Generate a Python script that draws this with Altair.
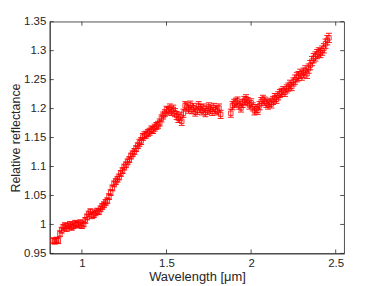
import altair as alt
import pandas as pd

wavelength = [
    0.83, 0.84, 0.85, 0.86, 0.87, 0.88, 0.89, 0.90, 0.91, 0.92, 0.93, 0.94, 0.95, 0.96, 0.97, 0.98, 0.99,
    1.00, 1.01, 1.02, 1.03, 1.04, 1.05, 1.06, 1.07, 1.08, 1.09, 1.10, 1.11, 1.12, 1.13, 1.14, 1.15, 1.16,
    1.17, 1.18, 1.19, 1.20, 1.21, 1.22, 1.23, 1.24, 1.25, 1.26, 1.27, 1.28, 1.29, 1.30, 1.31, 1.32, 1.33,
    1.34, 1.35, 1.36, 1.37, 1.38, 1.39, 1.40, 1.41, 1.42, 1.43, 1.44, 1.45, 1.46, 1.47, 1.48, 1.49, 1.50,
    1.51, 1.52, 1.53, 1.54, 1.55, 1.56, 1.57, 1.58, 1.59, 1.60, 1.61, 1.62, 1.63, 1.64, 1.65, 1.66, 1.67,
    1.68, 1.69, 1.70, 1.71, 1.72, 1.73, 1.74, 1.75, 1.76, 1.77, 1.78, 1.79, 1.80, 1.81, 1.82,
    1.88, 1.89, 1.90, 1.91, 1.92, 1.93, 1.94, 1.95, 1.96, 1.97, 1.98, 1.99, 2.00, 2.01, 2.02, 2.03, 2.04,
    2.05, 2.06, 2.07, 2.08, 2.09, 2.10, 2.11, 2.12, 2.13, 2.14, 2.15, 2.16, 2.17, 2.18, 2.19, 2.20, 2.21,
    2.22, 2.23, 2.24, 2.25, 2.26, 2.27, 2.28, 2.29, 2.30, 2.31, 2.32, 2.33, 2.34, 2.35, 2.36, 2.37, 2.38,
    2.39, 2.40, 2.41, 2.42, 2.43, 2.44, 2.45, 2.46,
]

reflectance = [
    0.972, 0.971, 0.973, 0.972, 0.984, 0.990, 0.995, 0.998, 0.993, 0.997, 1.000, 0.995, 0.998, 1.002, 1.000, 0.999, 1.003,
    0.998, 1.001, 1.007, 1.013, 1.018, 1.022, 1.015, 1.017, 1.020, 1.023, 1.022, 1.027, 1.031, 1.034, 1.038, 1.041, 1.048,
    1.055, 1.063, 1.070, 1.074, 1.078, 1.082, 1.088, 1.093, 1.099, 1.103, 1.108, 1.112, 1.118, 1.122, 1.126, 1.131, 1.136,
    1.141, 1.144, 1.151, 1.154, 1.155, 1.158, 1.160, 1.164, 1.163, 1.167, 1.170, 1.172, 1.176, 1.183, 1.188, 1.192, 1.198,
    1.196, 1.201, 1.195, 1.199, 1.193, 1.188, 1.183, 1.186, 1.178, 1.192, 1.205, 1.203, 1.199, 1.206, 1.198, 1.202, 1.194,
    1.197, 1.205, 1.200, 1.196, 1.201, 1.193, 1.197, 1.203, 1.199, 1.195, 1.202, 1.198, 1.196, 1.201, 1.190,
    1.192, 1.205, 1.209, 1.211, 1.213, 1.206, 1.201, 1.209, 1.214, 1.217, 1.212, 1.206, 1.210, 1.203, 1.196, 1.200, 1.197,
    1.205, 1.212, 1.216, 1.213, 1.209, 1.206, 1.211, 1.208, 1.214, 1.219, 1.216, 1.222, 1.226, 1.228, 1.231, 1.228, 1.234,
    1.237, 1.242, 1.238, 1.246, 1.250, 1.254, 1.256, 1.260, 1.257, 1.262, 1.266, 1.260, 1.269, 1.275, 1.282, 1.287, 1.290,
    1.294, 1.297, 1.296, 1.300, 1.304, 1.312, 1.318, 1.322,
]

error = [
    0.005, 0.005, 0.005, 0.005, 0.005, 0.005, 0.005, 0.005, 0.005, 0.005, 0.005, 0.005, 0.005, 0.005, 0.005, 0.005, 0.005,
    0.005, 0.005, 0.005, 0.005, 0.005, 0.005, 0.005, 0.005, 0.005, 0.005, 0.005, 0.005, 0.005, 0.005, 0.005, 0.005, 0.005,
    0.005, 0.005, 0.005, 0.005, 0.005, 0.005, 0.005, 0.005, 0.005, 0.005, 0.005, 0.005, 0.005, 0.005, 0.005, 0.005, 0.005,
    0.006, 0.006, 0.006, 0.006, 0.006, 0.006, 0.006, 0.006, 0.006, 0.006, 0.006, 0.006, 0.006, 0.006, 0.006, 0.006, 0.006,
    0.007, 0.007, 0.007, 0.007, 0.007, 0.007, 0.007, 0.007, 0.007, 0.007, 0.007, 0.007, 0.007, 0.007, 0.007, 0.007, 0.007,
    0.007, 0.007, 0.007, 0.007, 0.007, 0.007, 0.007, 0.007, 0.007, 0.007, 0.007, 0.007, 0.007, 0.007, 0.007,
    0.007, 0.007, 0.007, 0.007, 0.007, 0.007, 0.007, 0.007, 0.007, 0.007, 0.007, 0.007, 0.007, 0.007, 0.007, 0.007, 0.007,
    0.007, 0.007, 0.007, 0.007, 0.007, 0.007, 0.007, 0.007, 0.007, 0.007, 0.007, 0.007, 0.007, 0.007, 0.007, 0.007, 0.007,
    0.007, 0.007, 0.007, 0.007, 0.008, 0.008, 0.008, 0.008, 0.008, 0.008, 0.008, 0.008, 0.008, 0.008, 0.008, 0.008, 0.008,
    0.008, 0.008, 0.008, 0.008, 0.008, 0.008, 0.008, 0.008,
]

x_ticks = [1.0, 1.5, 2.0, 2.5]
y_ticks = [0.95, 1.0, 1.05, 1.1, 1.15, 1.2, 1.25, 1.3, 1.35]

df = pd.DataFrame({"wl": wavelength, "r": reflectance, "e": error})
df["lo"] = df["r"] - df["e"]
df["hi"] = df["r"] + df["e"]

W, H = 296, 233
RED = "#ff0000"
AX = "#262626"

xs = alt.Scale(domain=[0.81, 2.55], nice=False, zero=False)
ys = alt.Scale(domain=[0.95, 1.35], nice=False, zero=False)

xaxis = alt.Axis(values=x_ticks, ticks=False, grid=False, format="~g", title="Wavelength [μm]",
                 labelPadding=4, titlePadding=2, labelOverlap=False, titleFontSize=13)
yaxis = alt.Axis(values=y_ticks, ticks=False, grid=False, format="~g", title="Relative reflectance",
                 labelPadding=4, titlePadding=1, labelOverlap=False, titleFontSize=12.5)


def X(f):
    return alt.X(f, scale=xs, axis=xaxis)


def Y(f):
    return alt.Y(f, scale=ys, axis=yaxis)


base = alt.Chart(df)

bars = base.mark_rule(color=RED, strokeWidth=1, opacity=0.9).encode(
    x=X("wl:Q"), y=Y("lo:Q"), y2="hi:Q",
)
cap_lo = base.mark_tick(color=RED, orient="horizontal", size=6, thickness=1, opacity=0.9).encode(
    x=X("wl:Q"), y=Y("lo:Q"))
cap_hi = base.mark_tick(color=RED, orient="horizontal", size=6, thickness=1, opacity=0.9).encode(
    x=X("wl:Q"), y=Y("hi:Q"))
pts = base.mark_point(shape="square", filled=False, color=RED, size=20, strokeWidth=1, opacity=0.8).encode(
    x=X("wl:Q"), y=Y("r:Q"))

xt = pd.DataFrame({"v": x_ticks})
yt = pd.DataFrame({"v": y_ticks})
tl = 4
xtick_b = alt.Chart(xt).mark_rule(color=AX, strokeWidth=0.8).encode(
    x=X("v:Q"), y=alt.value(H), y2=alt.value(H - tl))
xtick_t = alt.Chart(xt).mark_rule(color=AX, strokeWidth=0.8).encode(
    x=X("v:Q"), y=alt.value(0), y2=alt.value(tl))
ytick_l = alt.Chart(yt).mark_rule(color=AX, strokeWidth=0.8).encode(
    y=Y("v:Q"), x=alt.value(0), x2=alt.value(tl))
ytick_r = alt.Chart(yt).mark_rule(color=AX, strokeWidth=0.8).encode(
    y=Y("v:Q"), x=alt.value(W), x2=alt.value(W - tl))

chart = alt.layer(bars, cap_lo, cap_hi, pts, xtick_b, xtick_t, ytick_l, ytick_r).properties(
    width=W, height=H,
    autosize=alt.AutoSizeParams(type="none"),
    padding={"left": 42, "top": 13, "right": 30, "bottom": 30},
).configure_view(stroke=AX, strokeWidth=0.8).configure_axis(
    domainColor=AX, domainWidth=0.8, labelColor=AX, titleColor=AX,
    labelFont="Liberation Sans", titleFont="Liberation Sans",
    labelFontSize=11.5, titleFontWeight="normal",
)

chart.save("out.html", embed_options={"renderer": "svg", "actions": False})
